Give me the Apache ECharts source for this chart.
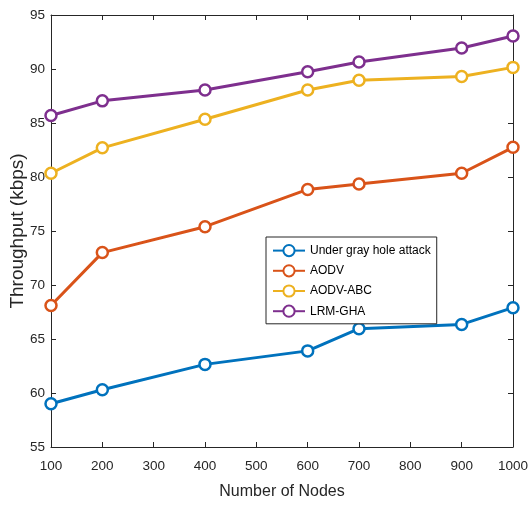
<!DOCTYPE html>
<html>
<head>
<meta charset="utf-8">
<script src="https://cdn.jsdelivr.net/npm/echarts@6/dist/echarts.min.js"></script>
<style>html,body{margin:0;padding:0;background:#fff;}#c{width:532px;height:506px;}</style>
</head>
<body>
<div id="c"></div>
<script>
const nodes = [100, 200, 400, 600, 700, 900, 1000];
const grayHole = [59.0, 60.3, 62.65, 63.9, 65.95, 66.35, 67.9];
const aodv = [68.1, 73.0, 75.4, 78.85, 79.35, 80.35, 82.75];
const aodvAbc = [80.35, 82.7, 85.35, 88.05, 88.95, 89.3, 90.15];
const lrmGha = [85.7, 87.05, 88.05, 89.75, 90.65, 91.95, 93.05];
const seriesNames = ['Under gray hole attack', 'AODV', 'AODV-ABC', 'LRM-GHA'];
const xTicks = {min: 100, max: 1000, step: 100};
const yTicks = {min: 55, max: 95, step: 5};

const colors = ['#0072BD', '#D95319', '#EDB120', '#7E2F8E'];
const FONT = "'Liberation Sans', Arial, sans-serif";
const axisCol = '#262626';
const allData = [grayHole, aodv, aodvAbc, lrmGha];

const chart = echarts.init(document.getElementById('c'), null, {renderer: 'canvas'});
const baseX = {type: 'value', min: xTicks.min, max: xTicks.max, interval: xTicks.step,
  axisLine: {show: true, lineStyle: {color: axisCol, width: 1}},
  axisTick: {show: true, inside: true, length: 5, lineStyle: {color: axisCol}},
  splitLine: {show: false}};
const baseY = {type: 'value', min: yTicks.min, max: yTicks.max, interval: yTicks.step,
  axisLine: {show: true, lineStyle: {color: axisCol, width: 1}},
  axisTick: {show: true, inside: true, length: 5, lineStyle: {color: axisCol}},
  splitLine: {show: false}};

chart.setOption({
  backgroundColor: '#fff',
  animation: false,
  grid: {left: 51, right: 19, top: 15, bottom: 59, containLabel: false, outerBoundsMode: 'none'},
  xAxis: [
    Object.assign({}, baseX, {position: 'bottom',
      axisLabel: {color: axisCol, fontFamily: FONT, fontSize: 13.5, margin: 12,
        formatter: v => String(v), hideOverlap: false},
      name: 'Number of Nodes', nameLocation: 'middle', nameGap: 37, nameMoveOverlap: false,
      nameTextStyle: {color: axisCol, fontFamily: FONT, fontSize: 16}}),
    Object.assign({}, baseX, {position: 'top', axisLabel: {show: false}})
  ],
  yAxis: [
    Object.assign({}, baseY, {position: 'left',
      axisLabel: {color: axisCol, fontFamily: FONT, fontSize: 13.5, margin: 6, formatter: v => String(v)},
      name: 'Throughput (kbps)', nameLocation: 'middle', nameGap: 24, nameMoveOverlap: false,
      nameTextStyle: {color: axisCol, fontFamily: FONT, fontSize: 19}}),
    Object.assign({}, baseY, {position: 'right', axisLabel: {show: false}})
  ],
  legend: {
    orient: 'vertical', left: 266, top: 237,
    backgroundColor: '#fff', borderColor: axisCol, borderWidth: 1, borderRadius: 0,
    padding: [7, 6, 6, 6], itemGap: 7, itemWidth: 32, itemHeight: 14,
    textStyle: {color: '#000', fontFamily: FONT, fontSize: 12},
    data: seriesNames
  },
  series: seriesNames.map((n, i) => ({
    name: n, type: 'line',
    data: nodes.map((x, j) => [x, allData[i][j]]),
    symbol: 'circle', symbolSize: 11, showSymbol: true,
    lineStyle: {color: colors[i], width: 3},
    itemStyle: {color: '#fff', borderColor: colors[i], borderWidth: 2.5},
    z: 2 + i
  }))
});
</script>
</body>
</html>
